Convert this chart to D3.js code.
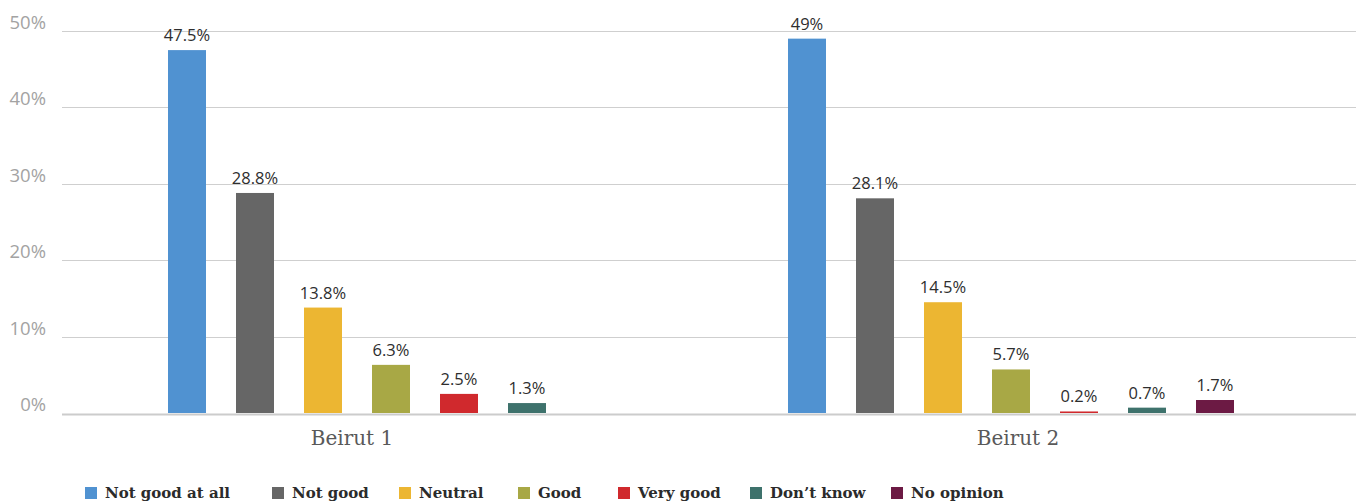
<!DOCTYPE html>
<html>
<head>
<meta charset="utf-8">
<script src="https://cdn.jsdelivr.net/npm/d3@7"></script>
<style>
  html, body { margin: 0; padding: 0; background: #fff; }
  svg { display: block; }
</style>
</head>
<body>
<svg id="chart" width="1359" height="503"></svg>
<script>
// Survey answers per district, in percent
const groups = ["Beirut 1", "Beirut 2"];
const answers = ["Not good at all", "Not good", "Neutral", "Good", "Very good", "Don\u2019t know", "No opinion"];
const beirut1 = [47.5, 28.8, 13.8, 6.3, 2.5, 1.3, null];
const beirut2 = [49, 28.1, 14.5, 5.7, 0.2, 0.7, 1.7];
const valueLabels1 = ["47.5%", "28.8%", "13.8%", "6.3%", "2.5%", "1.3%", null];
const valueLabels2 = ["49%", "28.1%", "14.5%", "5.7%", "0.2%", "0.7%", "1.7%"];
const yTicks = [0, 10, 20, 30, 40, 50];

const colors = ["#5092d1", "#666666", "#ecb632", "#a8a845", "#d0292d", "#3e726c", "#6c1a44"];

const svg = d3.select("#chart");

// plot frame
const plotLeft = 62, plotRight = 1356;
const y = d3.scaleLinear().domain([0, 50]).range([413, 31]);

// one band per district, bars inside each band
const x0 = d3.scaleBand().domain(groups).range([81, 1321]).padding(0);
const x1 = d3.scaleBand().domain(answers).range([0, 476]).paddingInner(30 / 68).paddingOuter(15 / 68);
const innerOffset = (x0.bandwidth() - 476) / 2;

// gridlines and y labels
const grid = svg.append("g");
grid.selectAll("line").data(yTicks.filter(d => d > 0)).join("line")
  .attr("x1", plotLeft).attr("x2", plotRight)
  .attr("y1", d => Math.round(y(d)) + 0.5).attr("y2", d => Math.round(y(d)) + 0.5)
  .attr("stroke", "#cfcfcf").attr("stroke-width", 1);

// baseline, drawn under the bars
svg.append("line")
  .attr("x1", plotLeft).attr("x2", plotRight)
  .attr("y1", y(0) + 1.5).attr("y2", y(0) + 1.5)
  .attr("stroke", "#cccccc").attr("stroke-width", 2);

svg.append("g").selectAll("text").data(yTicks).join("text")
  .attr("x", 46).attr("y", d => y(d) - 2)
  .attr("text-anchor", "end")
  .attr("font-family", "'Open Sans', 'Noto Sans', sans-serif")
  .attr("font-size", 18.5)
  .attr("fill", "#a3a3a3")
  .text(d => d + "%");

// bars
const series = [beirut1, beirut2];
const labels = [valueLabels1, valueLabels2];
const rows = [];
groups.forEach((g, gi) => {
  answers.forEach((a, ai) => {
    const v = series[gi][ai];
    if (v == null) return;
    rows.push({ g, a, ai, v, label: labels[gi][ai] });
  });
});

const barX = d => x0(d.g) + innerOffset + x1(d.a);

svg.append("g").selectAll("rect").data(rows).join("rect")
  .attr("x", barX)
  .attr("y", d => y(d.v))
  .attr("width", x1.bandwidth())
  .attr("height", d => y(0) - y(d.v))
  .attr("fill", d => colors[d.ai]);

svg.append("g").selectAll("text").data(rows).join("text")
  .attr("x", d => barX(d) + x1.bandwidth() / 2)
  .attr("y", d => y(d.v) - 9)
  .attr("text-anchor", "middle")
  .attr("font-family", "'Open Sans', 'Noto Sans', sans-serif")
  .attr("font-size", 16.5)
  .attr("fill", "#2e2e2e")
  .text(d => d.label);

// district labels
const catShift = [-39, 7];
svg.append("g").selectAll("text").data(groups).join("text")
  .attr("x", (d, i) => x0(d) + x0.bandwidth() / 2 + catShift[i])
  .attr("y", 445)
  .attr("text-anchor", "middle")
  .attr("font-family", "'DejaVu Serif', serif")
  .attr("font-size", 20)
  .attr("fill", "#595959")
  .text(d => d);

// legend
const legendX = [85, 272, 399, 518, 618, 750, 891];
const legend = svg.append("g").selectAll("g").data(answers).join("g")
  .attr("transform", (d, i) => `translate(${legendX[i]},0)`);
legend.append("rect")
  .attr("x", 0).attr("y", 487).attr("width", 12).attr("height", 12)
  .attr("fill", (d, i) => colors[i]);
legend.append("text")
  .attr("x", 20).attr("y", 498)
  .attr("font-family", "'DejaVu Serif', serif")
  .attr("font-weight", "bold")
  .attr("font-size", 15)
  .attr("fill", "#2b2b2b")
  .text(d => d);
</script>
</body>
</html>
